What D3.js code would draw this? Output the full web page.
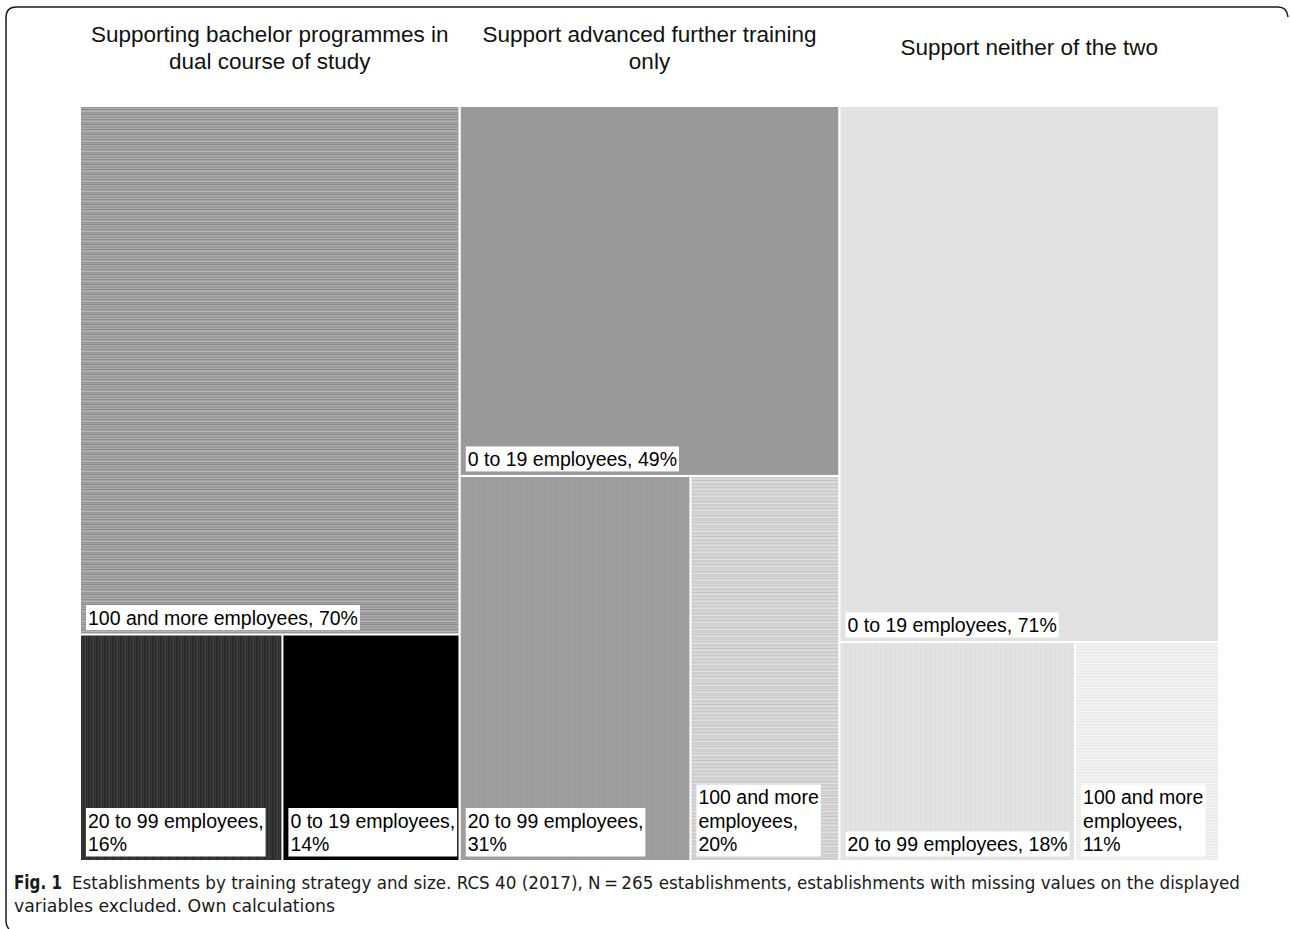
<!DOCTYPE html>
<html>
<head>
<meta charset="utf-8">
<script src="https://cdn.jsdelivr.net/npm/d3@7"></script>
<style>
  body { margin: 0; background: #fff; }
  svg { display: block; }
</style>
</head>
<body>
<div id="chart"></div>
<script>
// =========================
// Data
// =========================
const strategies = [
    "Supporting bachelor programmes in dual course of study",
    "Support advanced further training only",
    "Support neither of the two"
];

// size classes per strategy, largest first
const sizeLabels = [
    ["100 and more employees", "20 to 99 employees", "0 to 19 employees"],
    ["0 to 19 employees", "20 to 99 employees", "100 and more employees"],
    ["0 to 19 employees", "20 to 99 employees", "100 and more employees"]
];
const sharePct = [
    [70, 16, 14],
    [49, 31, 20],
    [71, 18, 11]
];

const captionBold = "Fig. 1";
const captionLine1 = "Establishments by training strategy and size. RCS 40 (2017), N\u2009=\u2009265 establishments, establishments with missing values on the displayed";
const captionLine2 = "variables excluded. Own calculations";

// ---- styles (greyscale stripe textures, one per cell) ----
const textures = [
    [
        { dir: "h", colors: ["#9a9a9a", "#a9a9a9", "#8f8f8f", "#a4a4a4", "#b3b3b3", "#969696", "#a0a0a0", "#8c8c8c", "#aaaaaa", "#9d9d9d"] },
        { dir: "v", colors: ["#2e2e2e", "#3c3c3c", "#2a2a2a", "#363636", "#424242", "#2c2c2c", "#383838", "#262626"] },
        { dir: "v", colors: ["#000000"] }
    ],
    [
        { dir: "v", colors: ["#999999"] },
        { dir: "v", colors: ["#9b9b9b", "#a0a0a0", "#9d9d9d", "#a2a2a2", "#9a9a9a", "#9f9f9f"] },
        { dir: "h", colors: ["#cfcfcf", "#dadada", "#c6c6c6", "#d5d5d5", "#e0e0e0", "#cbcbcb", "#d2d2d2"] }
    ],
    [
        { dir: "v", colors: ["#e2e2e2"] },
        { dir: "v", colors: ["#dfdfdf", "#e3e3e3", "#e1e1e1", "#e5e5e5", "#dedede"] },
        { dir: "h", colors: ["#ededed", "#f3f3f3", "#e9e9e9", "#f0f0f0", "#f5f5f5", "#ebebeb"] }
    ]
];

// =========================
// Layout
// =========================
const W = 1290, H = 929;
const plot = { left: 81, right: 1218, top: 107, bottom: 860 };
const labelFont = 19.5, titleFont = 22.5;

const svg = d3.select("#chart").append("svg")
    .attr("width", W)
    .attr("height", H)
    .style("font-family", "Arial, 'Liberation Sans', sans-serif");

// frame (Springer style box, top + left edges)
const frame = d3.path();
frame.moveTo(1288, 17);
frame.quadraticCurveTo(1287, 7, 1278, 7);
frame.lineTo(16, 7);
frame.quadraticCurveTo(6, 7, 6, 18);
frame.lineTo(6, 920);
frame.quadraticCurveTo(6, 926, 9, 929);
svg.append("path")
    .attr("d", frame.toString())
    .attr("fill", "none")
    .attr("stroke", "#1a1a1a")
    .attr("stroke-width", 1.5);

// patterns
const defs = svg.append("defs");
textures.forEach((row, gi) => {
    row.forEach((t, ci) => {
        const n = t.colors.length;
        const p = defs.append("pattern")
            .attr("id", `tex-${gi}-${ci}`)
            .attr("patternUnits", "userSpaceOnUse")
            .attr("width", t.dir === "v" ? n : 4)
            .attr("height", t.dir === "h" ? n : 4);
        p.selectAll("rect")
            .data(t.colors)
            .enter()
            .append("rect")
            .attr("x", (c, i) => t.dir === "v" ? i : 0)
            .attr("y", (c, i) => t.dir === "h" ? i : 0)
            .attr("width", t.dir === "v" ? 1 : 4)
            .attr("height", t.dir === "h" ? 1 : 4)
            .attr("fill", c => c);
    });
});

const x = d3.scaleBand()
    .domain(strategies)
    .range([plot.left, plot.right])
    .paddingInner(0.006);

// slice the biggest class off the top, then split the rest side by side
function tile(node, x0, y0, x1, y1) {
    (node.depth === 0 ? d3.treemapSlice : d3.treemapDice)(node, x0, y0, x1, y1);
}

const treemap = d3.treemap()
    .size([x.bandwidth(), plot.bottom - plot.top])
    .paddingInner(2)
    .tile(tile);

// wrap words to a width, measuring with a scratch text node
const scratch = svg.append("text").attr("font-size", labelFont).attr("visibility", "hidden");
function wrap(str, maxW, size) {
    scratch.attr("font-size", size);
    const words = str.split(" ");
    const lines = [];
    let cur = "";
    words.forEach(w => {
        const test = cur ? cur + " " + w : w;
        scratch.text(test);
        if (cur && scratch.node().getComputedTextLength() > maxW) {
            lines.push(cur);
            cur = w;
        } else {
            cur = test;
        }
    });
    lines.push(cur);
    return lines;
}

strategies.forEach((s, gi) => {
    const rootData = {
        children: [
            { name: sizeLabels[gi][0], value: sharePct[gi][0], ci: 0 },
            { children: [1, 2].map(ci => ({ name: sizeLabels[gi][ci], value: sharePct[gi][ci], ci })) }
        ]
    };
    const root = d3.hierarchy(rootData).sum(d => d.value || 0);
    treemap(root);

    const g = svg.append("g")
        .attr("transform", `translate(${x(s)},${plot.top})`);

    const leaves = g.selectAll(".cell")
        .data(root.leaves())
        .enter()
        .append("g")
        .attr("class", "cell");

    leaves.append("rect")
        .attr("x", d => d.x0)
        .attr("y", d => d.y0)
        .attr("width", d => d.x1 - d.x0)
        .attr("height", d => d.y1 - d.y0)
        .attr("fill", d => `url(#tex-${gi}-${d.data.ci})`);

    // labels: white box at bottom-left of each cell
    leaves.each(function (d) {
        const cell = d3.select(this);
        const lines = wrap(`${d.data.name}, ${d.data.value}%`, d.x1 - d.x0 - 9, labelFont);
        const lh = 23.5;
        const lastBase = d.y1 - 9;
        const firstBase = lastBase - (lines.length - 1) * lh;
        const box = cell.append("rect").attr("fill", "#fff");
        const txt = cell.append("text")
            .attr("font-size", labelFont)
            .attr("fill", "#000");
        txt.selectAll("tspan")
            .data(lines)
            .enter()
            .append("tspan")
            .attr("x", d.x0 + 7)
            .attr("y", (l, i) => firstBase + i * lh)
            .text(l => l);
        const bw = txt.node().getBBox().width;
        box.attr("x", d.x0 + 5)
            .attr("y", firstBase - 19.5)
            .attr("width", bw + 4)
            .attr("height", lastBase - firstBase + 25);
    });

    // strategy title above the column
    const tLines = wrap(s, x.bandwidth(), titleFont);
    const tlh = 27;
    const tMid = 55;
    svg.append("text")
        .attr("font-size", titleFont)
        .attr("fill", "#111")
        .attr("text-anchor", "middle")
        .selectAll("tspan")
        .data(tLines)
        .enter()
        .append("tspan")
        .attr("x", x(s) + x.bandwidth() / 2)
        .attr("y", (l, i) => tMid - (tLines.length - 1) * tlh / 2 + i * tlh)
        .text(l => l);
});
scratch.remove();

// =========================
// Caption
// =========================
const capFont = "'Liberation Sans Narrow', 'DejaVu Sans Condensed', 'Open Sans', sans-serif";
svg.append("text")
    .attr("x", 14)
    .attr("y", 889)
    .attr("font-family", capFont)
    .attr("font-size", 19)
    .attr("font-weight", "bold")
    .attr("fill", "#1a1a1a")
    .attr("textLength", 48)
    .attr("lengthAdjust", "spacingAndGlyphs")
    .text(captionBold);
svg.append("text")
    .attr("x", 72)
    .attr("y", 889)
    .attr("font-family", capFont)
    .attr("font-size", 18)
    .attr("fill", "#1a1a1a")
    .attr("textLength", 1168)
    .attr("lengthAdjust", "spacingAndGlyphs")
    .text(captionLine1);
svg.append("text")
    .attr("x", 14)
    .attr("y", 912)
    .attr("font-family", capFont)
    .attr("font-size", 18)
    .attr("fill", "#1a1a1a")
    .attr("textLength", 321)
    .attr("lengthAdjust", "spacingAndGlyphs")
    .text(captionLine2);
</script>
</body>
</html>
